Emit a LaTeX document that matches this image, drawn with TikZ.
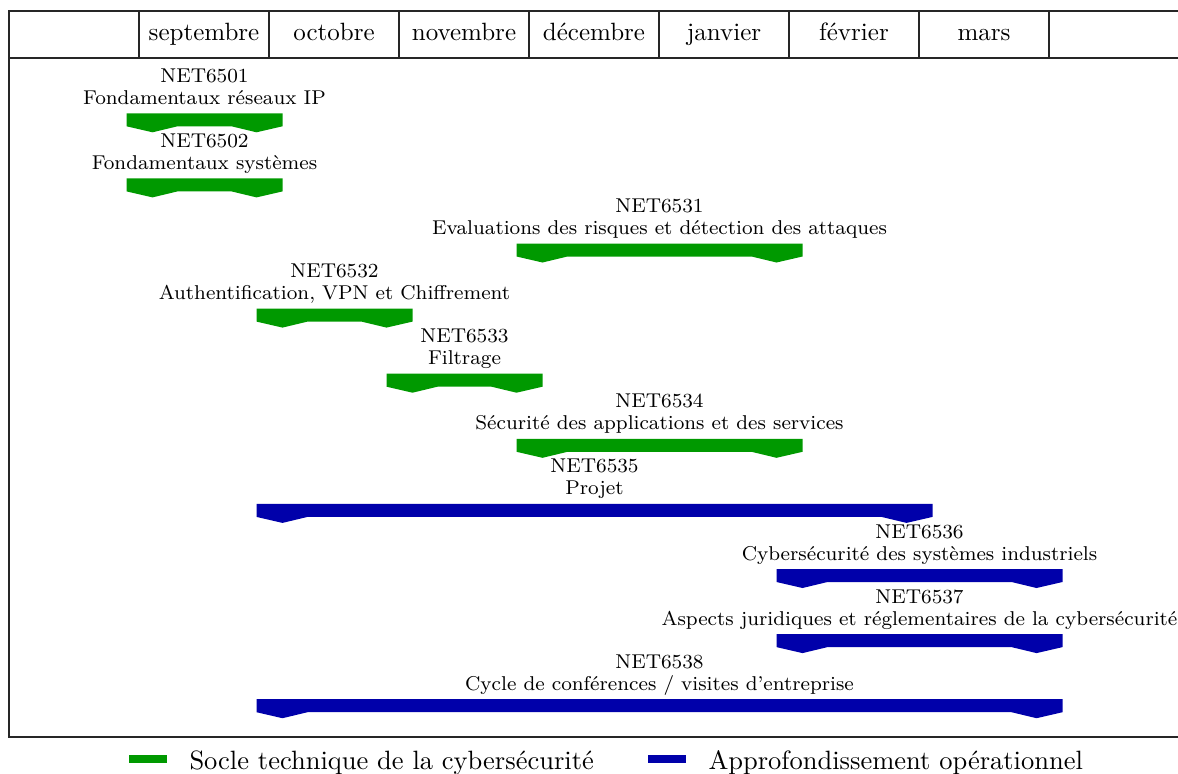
\documentclass[tikz,border=0pt]{standalone}
\usepackage{fontspec}
\usepackage{tikz}
\usetikzlibrary{positioning}
\definecolor{socle}{RGB}{0,153,0}
\definecolor{approf}{RGB}{0,0,170}

\begin{document}
\begin{tikzpicture}[
    x=0.4pt, y=-0.4pt,
    frame/.style={draw=black!85, line width=0.45pt},
    month/.style={font=\normalsize, anchor=base, inner sep=0pt},
    title/.style={font=\fontsize{8}{8.8}\selectfont, align=center,
                  anchor=base, inner sep=0pt},
    swatch/.style={minimum width=15.2pt, minimum height=3.2pt, inner sep=0pt},
    key/.style={font=\fontsize{10.6}{12}\selectfont, anchor=base west, inner sep=0pt}
]
\useasboundingbox (0,0) rectangle (1178,773);

% calendar grid
\draw[frame] (9,11) rectangle (1181,737);
\draw[frame] (9,58) -- (1181,58);
\foreach \k in {1,...,8}
    \draw[frame] ({9+130*\k},11) -- ({9+130*\k},58);
\foreach \m [count=\i] in {septembre, octobre, novembre, décembre, janvier, février, mars}
    \node[month] (month\i) at ({74+130*\i},40) {\m};

% course bars: code/title/first month/last month/row/colour
\foreach \code/\ttl/\s/\e/\r/\c in {
    NET6501/{Fondamentaux réseaux IP}/1/1/0/socle,
    NET6502/{Fondamentaux systèmes}/1/1/1/socle,
    NET6531/{Evaluations des risques et détection des attaques}/4/5/2/socle,
    NET6532/{Authentification, VPN et Chiffrement}/2/2/3/socle,
    NET6533/{Filtrage}/3/3/4/socle,
    NET6534/{Sécurité des applications et des services}/4/5/5/socle,
    NET6535/{Projet}/2/6/6/approf,
    NET6536/{Cybersécurité des systèmes industriels}/6/7/7/approf,
    NET6537/{Aspects juridiques et réglementaires de la cybersécurité}/6/7/8/approf,
    NET6538/{Cycle de conférences / visites d’entreprise}/2/7/9/approf}
{
    \pgfmathsetmacro\L{9+130*\s-12.5}
    \pgfmathsetmacro\R{9+130*(\e+1)+13.5}
    \pgfmathsetmacro\T{113.3+65.1*\r}
    \fill[\c] (\L,\T) -- (\R,\T) -- (\R,\T+13) -- (\R-26,\T+19) -- (\R-51,\T+13)
        -- (\L+51,\T+13) -- (\L+26,\T+19) -- (\L,\T+13) -- cycle;
    \node[title] (\code) at ({(\L+\R)/2},\T-9) {\code\\\ttl};
}

% legend
\node[swatch, fill=socle] (swatchsocle) at (148,759) {};
\node[key] (keysocle) at (189,769.5) {Socle technique de la cybersécurité};
\node[swatch, fill=approf] (swatchapprof) at (667,759) {};
\node[key] (keyapprof) at (708,769.5) {Approfondissement opérationnel};

\end{tikzpicture}
\end{document}
